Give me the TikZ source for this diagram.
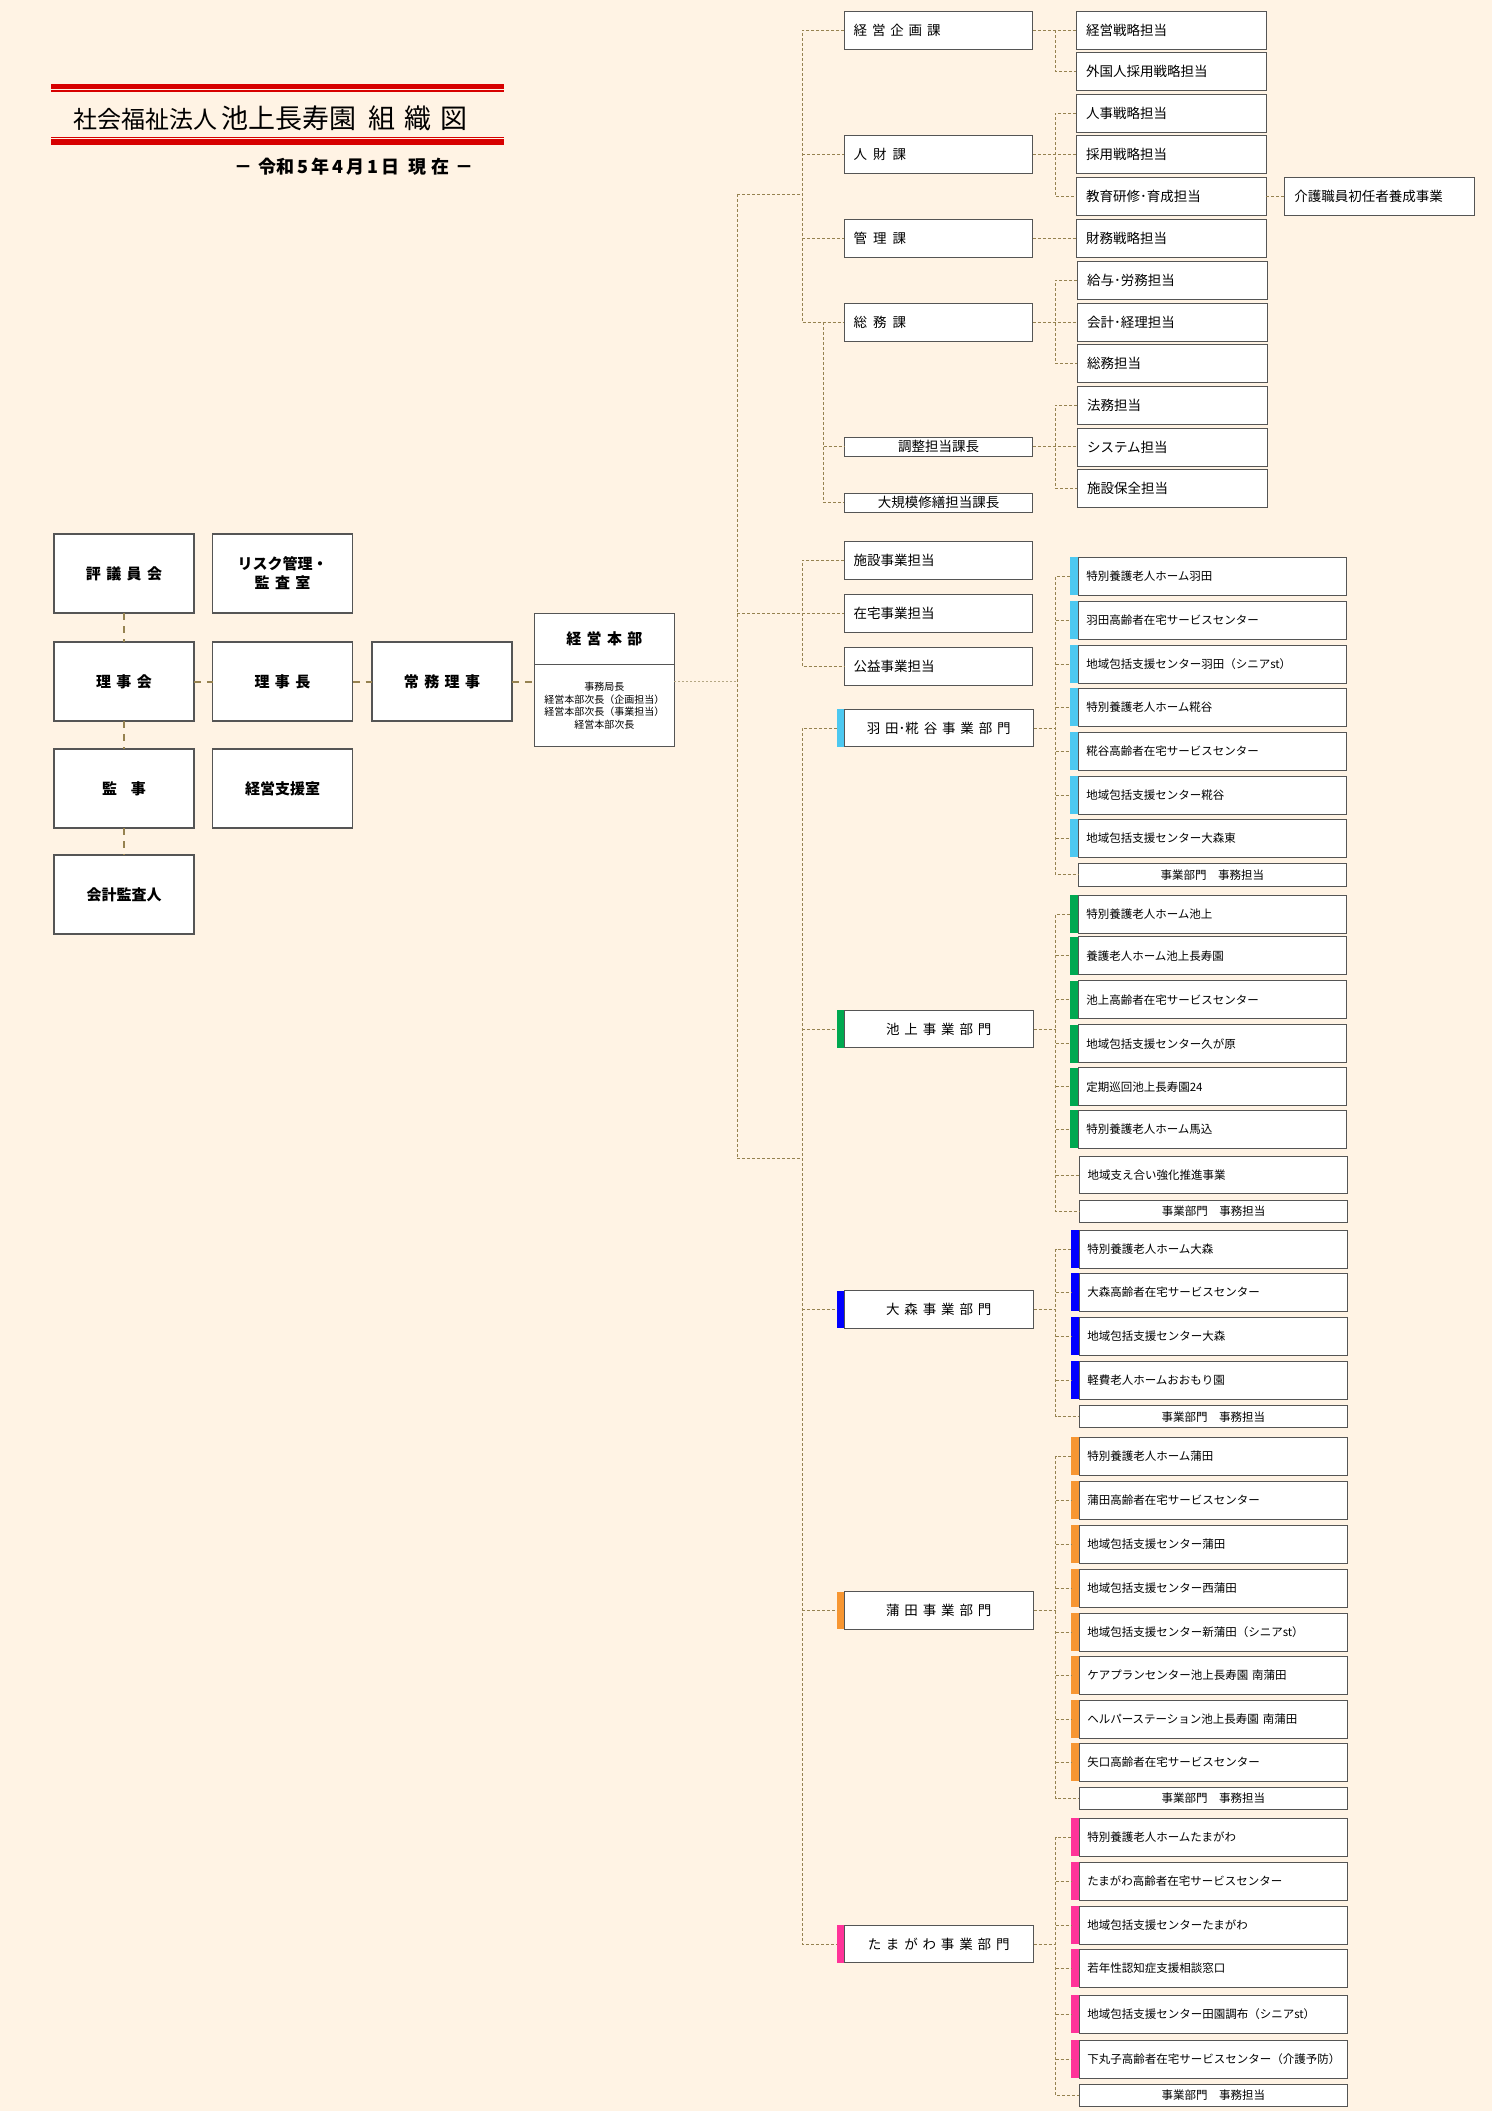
\documentclass[tikz,border=0pt]{standalone}
\usepackage{fontspec}
\setmainfont{Noto Sans CJK JP}
\newfontfamily\wide[LetterSpace=36]{Noto Sans CJK JP}
\usetikzlibrary{positioning}

\definecolor{bgcream}{RGB}{255,243,228}
\definecolor{boxgray}{RGB}{85,85,85}
\definecolor{linkol}{RGB}{150,130,80}
\definecolor{titlered}{RGB}{215,0,0}
\definecolor{hanedaC}{RGB}{77,200,240}
\definecolor{ikegamiC}{RGB}{0,168,80}
\definecolor{omoriC}{RGB}{0,0,255}
\definecolor{kamataC}{RGB}{247,150,50}
\definecolor{tamaC}{RGB}{255,51,153}

\tikzset{
  rect/.style={draw=boxgray, fill=white, line width=1pt, anchor=north west, inner sep=0pt, outer sep=0pt},
  big/.style={rect, line width=1.4pt, minimum width=140pt, minimum height=79pt, align=center, font=\fontsize{15}{19}\selectfont\bfseries},
  kabox/.style={rect, text width=170pt, inner xsep=9.25pt, minimum height=38pt, align=left, font=\fontsize{13.5}{16}\selectfont},
  kasmall/.style={rect, text width=188.5pt, minimum height=19pt, align=center, font=\fontsize{13.5}{16}\selectfont},
  tbox/.style={rect, text width=170pt, inner xsep=10pt, minimum height=38pt, align=left, font=\fontsize{13.5}{16}\selectfont},
  dept/.style={rect, text width=189.5pt, minimum height=37.5pt, align=center, font=\fontsize{13.5}{16}\selectfont},
  unit/.style={rect, text width=252pt, inner xsep=8.25pt, minimum height=38pt, align=left, font=\fontsize{11.5}{14}\selectfont},
  jimu/.style={rect, text width=268.5pt, minimum height=22pt, align=center, font=\fontsize{11.5}{14}\selectfont},
  bar/.style={fill=#1, draw=none, minimum width=8pt, minimum height=38pt, inner sep=0pt, outer sep=0pt},
  tie/.style={draw=linkol, line width=2pt, dash pattern=on 7pt off 6pt},
  link/.style={draw=linkol, line width=0.9pt, dash pattern=on 3pt off 2pt},
  feed/.style={draw=linkol!70, line width=1.3pt, dash pattern=on 2pt off 2pt}
}

\begin{document}
\begin{tikzpicture}[x=1pt,y=-1pt]
  \fill[bgcream] (0,0) rectangle (1492,2111);
  %% Title
  \fill[titlered] (51,84) rectangle (504,89.3);
  \fill[titlered] (51,90.3) rectangle (504,91.7);
  \fill[titlered] (51,137) rectangle (504,138.3);
  \fill[titlered] (51,139.3) rectangle (504,144.7);
  \node[anchor=west, inner sep=0pt] (title) at (73,118) {\fontsize{24}{28}\selectfont 社会福祉法人\hspace{4pt}\fontsize{27}{28}\selectfont 池上長寿園\hspace{12pt}組\hspace{9pt}織\hspace{9pt}図};
  \node[anchor=east, inner sep=0pt] (date) at (474,167) {\fontsize{18}{20}\selectfont\bfseries －\hspace{6pt}令和\hspace{3pt}5\hspace{3pt}年\hspace{3pt}4\hspace{3pt}月\hspace{3pt}1\hspace{3pt}日\hspace{9pt}現\hspace{5pt}在\hspace{6pt}－};

  %% Board
  \node[big] (hyogi) at (54,534) {\wide 評議員会};
  \node[big] (risk) at (212.5,534) {リスク管理・\\{\wide 監査室}};
  \node[big] (rijikai) at (54,642) {\wide 理事会};
  \node[big] (rijicho) at (212.5,642) {\wide 理事長};
  \node[big] (jomu) at (372,642) {\wide 常務理事};
  \node[big] (kansa) at (54,749) {監\hspace{14pt}事};
  \node[big] (shien) at (212.5,749) {経営支援室};
  \node[big] (kaikei) at (54,855) {会計監査人};
  \node[rect, minimum width=140pt, minimum height=51.4pt, font=\fontsize{15}{19}\selectfont\bfseries] (honbu) at (534.4,613.3) {\wide 経営本部};
  \node[rect, minimum width=140pt, minimum height=82pt, align=center, font=\fontsize{10}{12.7}\selectfont, below=0pt of honbu] (honbuSub) {事務局長\\経営本部次長（企画担当）\\経営本部次長（事業担当）\\経営本部次長};
  \draw[tie] (hyogi.south) -- (rijikai.north);
  \draw[tie] (rijikai.south) -- (kansa.north);
  \draw[tie] (kansa.south) -- (kaikei.north);
  \draw[tie] (rijikai.east) -- (rijicho.west);
  \draw[tie] (rijicho.east) -- (jomu.west);
  \draw[tie] (jomu.east) -- (jomu.east -| honbuSub.west);

  %% Sections
  \node[kabox] (keiei) at (844.4,11.3) {\wide 経営企画課};
  \node[kabox] (jinzai) at (844.4,135.3) {\wide 人\hspace{6pt}財\hspace{6pt}課};
  \node[kabox] (kanri) at (844.4,219.3) {\wide 管\hspace{6pt}理\hspace{6pt}課};
  \node[kabox] (somu) at (844.4,303.3) {\wide 総\hspace{6pt}務\hspace{6pt}課};
  \node[kasmall] (chosei) at (844.4,437.3) {調整担当課長};
  \node[kasmall] (daikibo) at (844.4,493.3) {大規模修繕担当課長};
  \node[tbox] (t1) at (1076,11.3) {経営戦略担当};
  \node[tbox] (t2) at (1076,52.3) {外国人採用戦略担当};
  \node[tbox] (t3) at (1076,94.3) {人事戦略担当};
  \node[tbox] (t4) at (1076,135.3) {採用戦略担当};
  \node[tbox] (t5) at (1076,177.3) {教育研修･育成担当};
  \node[tbox] (kaigo) at (1284.3,177.3) {介護職員初任者養成事業};
  \node[tbox] (t6) at (1076,219.3) {財務戦略担当};
  \node[tbox] (t7) at (1077,261.3) {給与･労務担当};
  \node[tbox] (t8) at (1077,303.3) {会計･経理担当};
  \node[tbox] (t9) at (1077,344.3) {総務担当};
  \node[tbox] (t10) at (1077,386.3) {法務担当};
  \node[tbox] (t11) at (1077,428.3) {システム担当};
  \node[tbox] (t12) at (1077,469.3) {施設保全担当};
  \node[kabox] (shisetsu) at (844.4,541.3) {施設事業担当};
  \node[kabox] (zaitaku) at (844.4,594.3) {在宅事業担当};
  \node[kabox] (koeki) at (844.4,647.3) {公益事業担当};

  %% Departments
  \node[dept] (haneda) at (844,709.3) {\wide 羽田{\fontspec{Noto Sans CJK JP}･}糀谷事業部門};
  \node[bar=hanedaC, minimum width=7pt, minimum height=37.5pt, left=0pt of haneda] (hanedaB) {};
  \node[dept] (ikegami) at (844,1010.3) {\wide 池上事業部門};
  \node[bar=ikegamiC, minimum width=7pt, minimum height=37.5pt, left=0pt of ikegami] (ikegamiB) {};
  \node[dept] (omori) at (844,1290.7) {\wide 大森事業部門};
  \node[bar=omoriC, minimum width=7pt, minimum height=37.5pt, left=0pt of omori] (omoriB) {};
  \node[dept] (kamata) at (844,1591.7) {\wide 蒲田事業部門};
  \node[bar=kamataC, minimum width=7pt, minimum height=37.5pt, left=0pt of kamata] (kamataB) {};
  \node[dept] (tama) at (844,1925.3) {\wide たまがわ事業部門};
  \node[bar=tamaC, minimum width=7pt, minimum height=37.5pt, left=0pt of tama] (tamaB) {};

  %% Haneda units
  \node[unit] (h1) at (1078,557.3) {特別養護老人ホーム羽田};
  \node[unit] (h2) at (1078,601.3) {羽田高齢者在宅サービスセンター};
  \node[unit] (h3) at (1078,645.3) {地域包括支援センター羽田（シニアst）};
  \node[unit] (h4) at (1078,688.3) {特別養護老人ホーム糀谷};
  \node[unit] (h5) at (1078,732) {糀谷高齢者在宅サービスセンター};
  \node[unit] (h6) at (1078,776) {地域包括支援センター糀谷};
  \node[unit] (h7) at (1078,819) {地域包括支援センター大森東};
  \node[jimu, minimum height=23pt] (hJ) at (1078,863.3) {事業部門　事務担当};
  \node[bar=hanedaC, left=0pt of h1] (h1b) {};
  \node[bar=hanedaC, left=0pt of h2] (h2b) {};
  \node[bar=hanedaC, left=0pt of h3] (h3b) {};
  \node[bar=hanedaC, left=0pt of h4] (h4b) {};
  \node[bar=hanedaC, left=0pt of h5] (h5b) {};
  \node[bar=hanedaC, left=0pt of h6] (h6b) {};
  \node[bar=hanedaC, left=0pt of h7] (h7b) {};

  %% Ikegami units
  \node[unit] (i1) at (1078,895.3) {特別養護老人ホーム池上};
  \node[unit] (i2) at (1078,936.7) {養護老人ホーム池上長寿園};
  \node[unit] (i3) at (1078,980.7) {池上高齢者在宅サービスセンター};
  \node[unit] (i4) at (1078,1024.7) {地域包括支援センター久が原};
  \node[unit] (i5) at (1078,1067.7) {定期巡回池上長寿園24};
  \node[unit] (i6) at (1078,1110.3) {特別養護老人ホーム馬込};
  \node[unit, minimum height=36.6pt] (i7) at (1079.4,1156.7) {地域支え合い強化推進事業};
  \node[jimu] (iJ) at (1079.4,1200) {事業部門　事務担当};
  \node[bar=ikegamiC, left=0pt of i1] (i1b) {};
  \node[bar=ikegamiC, left=0pt of i2] (i2b) {};
  \node[bar=ikegamiC, left=0pt of i3] (i3b) {};
  \node[bar=ikegamiC, left=0pt of i4] (i4b) {};
  \node[bar=ikegamiC, left=0pt of i5] (i5b) {};
  \node[bar=ikegamiC, left=0pt of i6] (i6b) {};

  %% Omori units
  \node[unit] (o1) at (1079,1230.3) {特別養護老人ホーム大森};
  \node[unit] (o2) at (1079,1273.3) {大森高齢者在宅サービスセンター};
  \node[unit] (o3) at (1079,1317.3) {地域包括支援センター大森};
  \node[unit] (o4) at (1079,1361.3) {軽費老人ホームおおもり園};
  \node[jimu] (oJ) at (1079,1405.7) {事業部門　事務担当};
  \node[bar=omoriC, left=0pt of o1] (o1b) {};
  \node[bar=omoriC, left=0pt of o2] (o2b) {};
  \node[bar=omoriC, left=0pt of o3] (o3b) {};
  \node[bar=omoriC, left=0pt of o4] (o4b) {};

  %% Kamata units
  \node[unit] (k1) at (1079,1437.3) {特別養護老人ホーム蒲田};
  \node[unit] (k2) at (1079,1481.3) {蒲田高齢者在宅サービスセンター};
  \node[unit] (k3) at (1079,1525.3) {地域包括支援センター蒲田};
  \node[unit] (k4) at (1079,1569.3) {地域包括支援センター西蒲田};
  \node[unit] (k5) at (1079,1613.3) {地域包括支援センター新蒲田（シニアst）};
  \node[unit] (k6) at (1079,1656.3) {ケアプランセンター池上長寿園 南蒲田};
  \node[unit] (k7) at (1079,1700.3) {ヘルパーステーション池上長寿園 南蒲田};
  \node[unit] (k8) at (1079,1743.3) {矢口高齢者在宅サービスセンター};
  \node[jimu] (kJ) at (1079,1787.3) {事業部門　事務担当};
  \node[bar=kamataC, left=0pt of k1] (k1b) {};
  \node[bar=kamataC, left=0pt of k2] (k2b) {};
  \node[bar=kamataC, left=0pt of k3] (k3b) {};
  \node[bar=kamataC, left=0pt of k4] (k4b) {};
  \node[bar=kamataC, left=0pt of k5] (k5b) {};
  \node[bar=kamataC, left=0pt of k6] (k6b) {};
  \node[bar=kamataC, left=0pt of k7] (k7b) {};
  \node[bar=kamataC, left=0pt of k8] (k8b) {};

  %% Tamagawa units
  \node[unit] (m1) at (1079,1818.3) {特別養護老人ホームたまがわ};
  \node[unit] (m2) at (1079,1862.3) {たまがわ高齢者在宅サービスセンター};
  \node[unit] (m3) at (1079,1906.3) {地域包括支援センターたまがわ};
  \node[unit] (m4) at (1079,1949.3) {若年性認知症支援相談窓口};
  \node[unit] (m5) at (1079,1995.3) {地域包括支援センター田園調布（シニアst）};
  \node[unit] (m6) at (1079,2040) {下丸子高齢者在宅サービスセンター（介護予防）};
  \node[jimu] (mJ) at (1079,2084.3) {事業部門　事務担当};
  \node[bar=tamaC, left=0pt of m1] (m1b) {};
  \node[bar=tamaC, left=0pt of m2] (m2b) {};
  \node[bar=tamaC, left=0pt of m3] (m3b) {};
  \node[bar=tamaC, left=0pt of m4] (m4b) {};
  \node[bar=tamaC, left=0pt of m5] (m5b) {};
  \node[bar=tamaC, left=0pt of m6] (m6b) {};

  %% Trunks
  \coordinate (mainT) at (737,0);
  \coordinate (secT) at (802,0);
  \coordinate (sbT) at (823.7,0);
  \coordinate (tanT) at (1055,0);
  \coordinate (subT) at (1055.5,0);
  \coordinate (kaJoin) at (737,194);
  \coordinate (buJoin) at (737,1158);
  \draw[feed] (jomu.east -| honbuSub.east) -- (mainT |- jomu.east);
  \draw[link] (kaJoin) -- (buJoin);
  \draw[link] (kaJoin) -- (secT |- kaJoin);
  \draw[link] (buJoin) -- (secT |- buJoin);
  \draw[link] (mainT |- zaitaku.west) -- (zaitaku.west);

  %% Section links
  \draw[link] (keiei.west) -| (secT |- somu.west) -- (somu.west);
  \draw[link] (secT |- jinzai.west) -- (jinzai.west);
  \draw[link] (secT |- kanri.west) -- (kanri.west);
  \draw[link] (sbT |- somu.west) |- (daikibo.west);
  \draw[link] (sbT |- chosei.west) -- (chosei.west);
  \draw[link] (shisetsu.west) -| (secT |- koeki.west) -- (koeki.west);
  \draw[link] (keiei.east) -- (t1.west);
  \draw[link] (tanT |- t1.west) |- (t2.west);
  \draw[link] (jinzai.east) -- (t4.west);
  \draw[link] (t3.west) -| (tanT |- t5.west) -- (t5.west);
  \draw[link] (kanri.east) -- (t6.west);
  \draw[link] (somu.east) -- (t8.west);
  \draw[link] (t7.west) -| (tanT |- t9.west) -- (t9.west);
  \draw[link] (chosei.east) -- (chosei.east -| t11.west);
  \draw[link] (t10.west) -| (tanT |- t12.west) -- (t12.west);
  \draw[link] (t5.east) -- (kaigo.west);

  %% Department links
  \draw[link] (hanedaB.west) -| (secT |- tamaB.west) -- (tamaB.west);
  \draw[link] (secT |- ikegamiB.west) -- (ikegamiB.west);
  \draw[link] (secT |- omoriB.west) -- (omoriB.west);
  \draw[link] (secT |- kamataB.west) -- (kamataB.west);

  %% Unit links
  \draw[link] (haneda.east) -- (subT |- haneda.east);
  \draw[link] (h1b.west) -| (subT |- hJ.west) -- (hJ.west);
  \draw[link] (subT |- h2b.west) -- (h2b.west) (subT |- h3b.west) -- (h3b.west)
    (subT |- h4b.west) -- (h4b.west) (subT |- h5b.west) -- (h5b.west)
    (subT |- h6b.west) -- (h6b.west) (subT |- h7b.west) -- (h7b.west);
  \draw[link] (ikegami.east) -- (subT |- ikegami.east);
  \draw[link] (i1b.west) -| (subT |- iJ.west) -- (iJ.west);
  \draw[link] (subT |- i2b.west) -- (i2b.west) (subT |- i3b.west) -- (i3b.west)
    (subT |- i4b.west) -- (i4b.west) (subT |- i5b.west) -- (i5b.west)
    (subT |- i6b.west) -- (i6b.west) (subT |- i7.west) -- (i7.west);
  \draw[link] (omori.east) -- (subT |- omori.east);
  \draw[link] (o1b.west) -| (subT |- oJ.west) -- (oJ.west);
  \draw[link] (subT |- o2b.west) -- (o2b.west) (subT |- o3b.west) -- (o3b.west)
    (subT |- o4b.west) -- (o4b.west);
  \draw[link] (kamata.east) -- (subT |- kamata.east);
  \draw[link] (k1b.west) -| (subT |- kJ.west) -- (kJ.west);
  \draw[link] (subT |- k2b.west) -- (k2b.west) (subT |- k3b.west) -- (k3b.west)
    (subT |- k4b.west) -- (k4b.west) (subT |- k5b.west) -- (k5b.west)
    (subT |- k6b.west) -- (k6b.west) (subT |- k7b.west) -- (k7b.west)
    (subT |- k8b.west) -- (k8b.west);
  \draw[link] (tama.east) -- (subT |- tama.east);
  \draw[link] (m1b.west) -| (subT |- mJ.west) -- (mJ.west);
  \draw[link] (subT |- m2b.west) -- (m2b.west) (subT |- m3b.west) -- (m3b.west)
    (subT |- m4b.west) -- (m4b.west) (subT |- m5b.west) -- (m5b.west)
    (subT |- m6b.west) -- (m6b.west);
\end{tikzpicture}
\end{document}
